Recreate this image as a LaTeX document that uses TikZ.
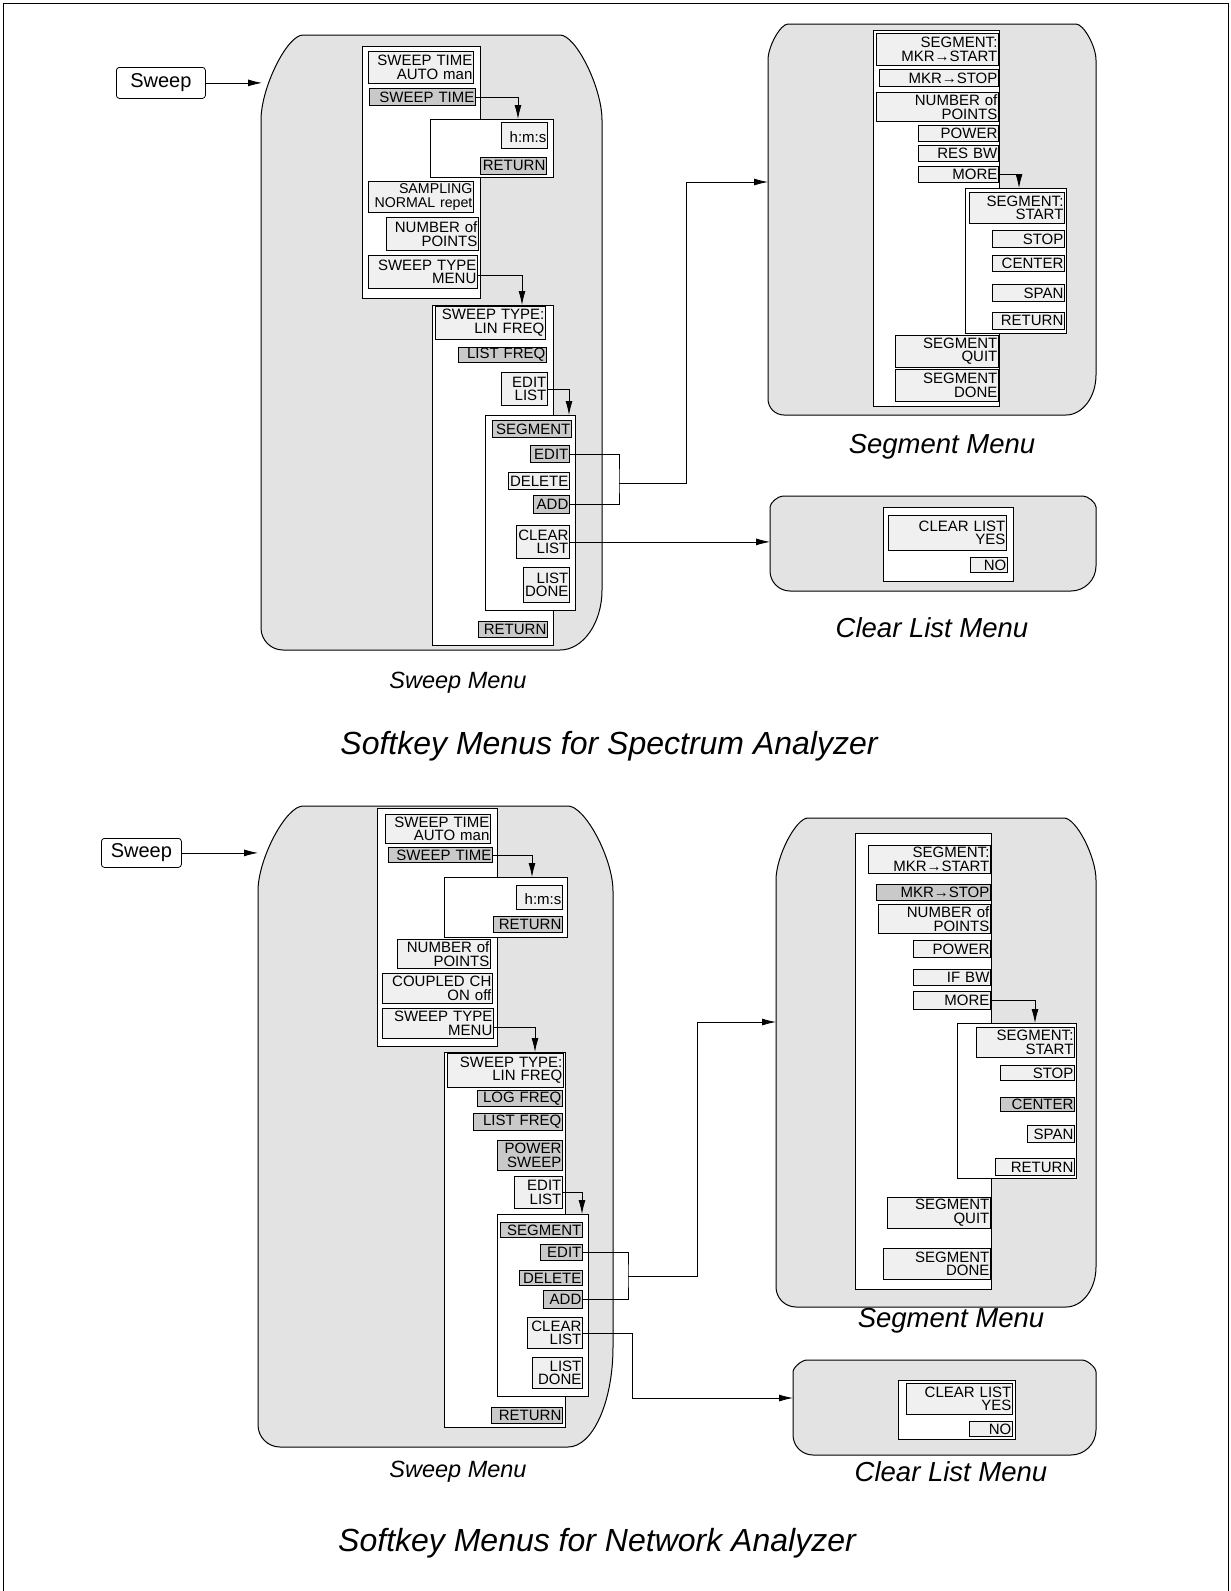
\documentclass[tikz,border=0pt]{standalone}
\usepackage{fontspec}
\setmainfont{Liberation Sans}
\usetikzlibrary{arrows.meta}
\tikzset{
 panelstyle/.style={fill=gray!22, draw=black, line width=1pt},
 btn/.style={draw=black, fill=gray!12, line width=0.8pt, inner xsep=1pt, inner ysep=0pt, align=right, font=\fontsize{15}{13.5}\selectfont},
 dk/.style={fill=gray!42},
 sm/.style={font=\fontsize{14.2}{13.5}\selectfont},
 wbox/.style={draw=black, fill=white, line width=0.8pt, inner sep=0pt},
 conn/.style={draw=black, line width=0.8pt, -{Latex[length=14pt,width=7pt]}},
 plainline/.style={draw=black, line width=0.8pt},
 swk/.style={draw=black, rounded corners=3pt, fill=white, line width=0.8pt, inner sep=0pt, font=\fontsize{20}{24}\selectfont},
 lbl/.style={font=\fontsize{27.5}{30}\selectfont\itshape},
 lbls/.style={font=\fontsize{23.5}{28}\selectfont\itshape},
 ttl/.style={font=\fontsize{32}{36}\selectfont\itshape}
}
\newcommand\skpanel[9]{%
 \filldraw[panelstyle] (#1,{#2+#6}) .. controls (#1,{#2+#6*0.62}) and ({#1+#5*0.62},#2) .. ({#1+#5},#2)
 -- ({#3-#5},#2) .. controls ({#3-#5*0.62},#2) and (#3,{#2+#6*0.62}) .. (#3,{#2+#6})
 -- (#3,{#4-#8}) .. controls (#3,{#4-#8*0.45}) and ({#3-#7*0.45},#4) .. ({#3-#7},#4)
 -- ({#1+#9},#4) .. controls ({#1+#9*0.45},#4) and (#1,{#4-#9*0.45}) .. (#1,{#4-#9}) -- cycle;}
\newcommand\skbtn[7][]{%
 \pgfmathsetmacro\skW{#5-#3}\pgfmathsetmacro\skH{#6-#4}\pgfmathsetmacro\skT{#5-#3-2}%
 \node[btn,#1,minimum width=\skW pt,minimum height=\skH pt,text width=\skT pt,anchor=north west] (#2) at (#3,#4) {#7};}
\newcommand\skbox[5]{%
 \pgfmathsetmacro\skW{#4-#2}\pgfmathsetmacro\skH{#5-#3}%
 \node[wbox,minimum width=\skW pt,minimum height=\skH pt,anchor=north west] (#1) at (#2,#3) {};}
\begin{document}
\begin{tikzpicture}[x=1pt,y=-1pt]
\fill[white] (0,0) rectangle (1231,1591);
\useasboundingbox (0,0) rectangle (1231,1591);
\draw[line width=1pt] (3,1591) -- (3,3) -- (1228,3) -- (1228,1591);

% ================= TOP: Spectrum analyzer =================
\node[swk, minimum width=89pt, minimum height=31pt, anchor=north west] (tsweep) at (116,67) {Sweep};
\skpanel{261}{35}{602}{650}{42}{85}{42}{60}{22}
\coordinate (tswin) at (262,80);
\draw[conn] (tsweep.east) -- (tsweep.east -| tswin);

\skbox{tswl}{362}{46}{480}{298}
\skbtn{tst1}{368}{51}{473}{83}{SWEEP TIME\\AUTO man}
\skbtn[dk]{tst2}{369}{88}{475}{105}{SWEEP TIME}
\skbox{thms}{430}{119}{553}{177}
\skbtn{thms1}{501}{122}{547}{148}{\mbox{}\\h:m:s}
\skbtn[dk]{thms2}{480}{157}{546}{174}{RETURN}
\skbtn[sm]{tsamp}{368}{181}{473}{212}{SAMPLING\\\mbox{NORMAL repet}}
\skbtn{tnop}{386}{217}{478}{250}{NUMBER of\\POINTS}
\skbtn{tstm}{368}{255}{477}{288}{SWEEP TYPE\\MENU}
\skbox{ttyp}{432}{305}{553}{645}
\skbtn{tlin}{435}{306}{545}{339}{SWEEP TYPE:\\LIN FREQ}
\skbtn[dk]{tlist}{458}{347}{546}{362}{LIST FREQ}
\skbtn{tedl}{501}{372}{547}{405}{EDIT\\LIST}
\skbox{tseg}{485}{415}{575}{610}
\skbtn[dk]{tsg}{492}{420}{571}{437}{SEGMENT}
\skbtn[dk]{tedit}{530}{445}{569}{462}{EDIT}
\skbtn{tdel}{508}{472}{569}{489}{DELETE}
\skbtn[dk]{tadd}{533}{495}{569}{513}{ADD}
\skbtn{tclr}{516}{525}{569}{558}{CLEAR\\LIST}
\skbtn{tldn}{523}{567}{569}{602}{LIST\\DONE}
\skbtn[dk]{tret}{478}{621}{547}{637}{RETURN}

\coordinate (ta1) at (518,119);
\draw[conn] (tst2.east) -| (ta1);
\coordinate (ta2) at (522,305);
\draw[conn] ([yshift=-3.5pt]tstm.east) -| (ta2);
\coordinate (ta3) at (569,415);
\draw[conn] (tedl.east) -| (ta3);

% segment menu (top)
\skpanel{768}{24}{1096}{415}{20}{36}{30}{40}{16}
\skbox{sgl}{873}{30}{999}{406}
\skbtn{s1}{876}{33}{998}{65}{SEGMENT:\\MKR→START}
\skbtn{s2}{879}{69}{998}{86}{MKR→STOP}
\skbtn{s3}{876}{92}{998}{121}{NUMBER of\\POINTS}
\skbtn{s4}{918}{125}{998}{141}{POWER}
\skbtn{s5}{918}{145}{998}{161}{RES BW}
\skbtn{s6}{918}{166}{998}{182}{MORE}
\skbox{sgs}{965}{188}{1066}{333}
\skbtn{s7}{969}{192}{1064}{223}{SEGMENT:\\START}
\skbtn{s8}{992}{230}{1064}{247}{STOP}
\skbtn{s9}{992}{255}{1064}{271}{CENTER}
\skbtn{s10}{992}{284}{1064}{301}{SPAN}
\skbtn{s11}{992}{312}{1064}{329}{RETURN}
\skbtn{s12}{895}{335}{998}{367}{SEGMENT\\QUIT}
\skbtn{s13}{895}{369}{998}{401}{SEGMENT\\DONE}
\coordinate (ta4) at (1019,188);
\draw[conn] (s6.east) -| (ta4);

% clear list (top)
\skpanel{770}{496}{1096}{591}{13}{11}{25}{25}{20}
\skbox{clb}{883}{507}{1013}{581}
\skbtn{c1}{888}{515}{1006}{550}{CLEAR LIST\\YES}
\skbtn{c2}{970}{557}{1007}{572}{NO}

% connectors top
\coordinate (tbr) at (619,483);
\draw[plainline] (tedit.east) -| (tbr) |- (tadd.east);
\coordinate (tup) at (686,182);
\coordinate (tsegin) at (768,182);
\draw[conn] (tbr) -| (tup) -- (tsegin);
\coordinate (tclin) at (770,543);
\draw[conn] (tclr.east) -- (tclr.east -| tclin);

\node[lbls] (tlsw) at (458,683) {Sweep Menu};
\node[lbl] (tlsg) at (942,447) {Segment Menu};
\node[lbl] (tlcl) at (932,628) {Clear List Menu};
\node[ttl] (tt1) at (609,746) {Softkey Menus for Spectrum Analyzer};

% ================= BOTTOM: Network analyzer =================
\node[swk, minimum width=80pt, minimum height=29pt, anchor=north west] (bsweep) at (101,838) {Sweep};
\skpanel{258}{806}{613}{1447}{45}{85}{45}{100}{22}
\coordinate (bswin) at (258,850);
\draw[conn] (bsweep.east) -- (bsweep.east -| bswin);

\skbox{bswl}{377}{808}{497}{1046}
\skbtn{bst1}{385}{814}{490}{843}{SWEEP TIME\\AUTO man}
\skbtn[dk]{bst2}{388}{847}{492}{862}{SWEEP TIME}
\skbox{bhms}{444}{877}{567}{937}
\skbtn{bhms1}{516}{885}{562}{909}{\mbox{}\\h:m:s}
\skbtn[dk]{bhms2}{493}{916}{562}{932}{RETURN}
\skbtn{bnop}{397}{939}{490}{968}{NUMBER of\\POINTS}
\skbtn{bcpl}{382}{973}{492}{1003}{COUPLED CH\\ON off}
\skbtn{bstm}{382}{1008}{493}{1038}{SWEEP TYPE\\MENU}
\skbox{btyp}{444}{1052}{565}{1427}
\skbtn{blin}{447}{1053}{563}{1087}{SWEEP TYPE:\\LIN FREQ}
\skbtn[dk]{blog}{477}{1090}{562}{1106}{LOG FREQ}
\skbtn[dk]{blist}{473}{1113}{562}{1130}{LIST FREQ}
\skbtn[dk]{bpow}{497}{1140}{562}{1170}{POWER\\SWEEP}
\skbtn{bedl}{514}{1176}{562}{1208}{EDIT\\LIST}
\skbox{bseg}{497}{1214}{588}{1396}
\skbtn[dk]{bsg}{500}{1222}{582}{1237}{SEGMENT}
\skbtn[dk]{bedit}{540}{1244}{582}{1260}{EDIT}
\skbtn[dk]{bdel}{519}{1270}{582}{1285}{DELETE}
\skbtn[dk]{badd}{543}{1290}{582}{1308}{ADD}
\skbtn{bclr}{527}{1317}{582}{1348}{CLEAR\\LIST}
\skbtn{bldn}{532}{1357}{582}{1388}{LIST\\DONE}
\skbtn[dk]{bret}{491}{1407}{562}{1423}{RETURN}

\coordinate (ba1) at (532,877);
\draw[conn] (bst2.east) -| (ba1);
\coordinate (ba2) at (535,1052);
\draw[conn] ([yshift=-4pt]bstm.east) -| (ba2);
\coordinate (ba3) at (582,1214);
\draw[conn] (bedl.east) -| (ba3);

% segment menu (bottom)
\skpanel{776}{818}{1096}{1307}{32}{62}{30}{40}{20}
\skbox{bsgl}{855}{833}{991}{1289}
\skbtn{u1}{868}{845}{990}{873}{SEGMENT:\\MKR→START}
\skbtn[dk]{u2}{876}{884}{990}{900}{MKR→STOP}
\skbtn{u3}{878}{904}{990}{933}{NUMBER of\\POINTS}
\skbtn{u4}{913}{940}{990}{957}{POWER}
\skbtn{u5}{913}{969}{990}{985}{IF BW}
\skbtn{u6}{913}{991}{990}{1009}{MORE}
\skbox{bsgs}{957}{1023}{1076}{1178}
\skbtn{u7}{976}{1027}{1074}{1057}{SEGMENT:\\START}
\skbtn{u8}{1000}{1065}{1074}{1080}{STOP}
\skbtn[dk]{u9}{1000}{1097}{1074}{1111}{CENTER}
\skbtn{u10}{1027}{1125}{1074}{1142}{SPAN}
\skbtn{u11}{995}{1158}{1074}{1175}{RETURN}
\skbtn{u12}{887}{1197}{990}{1228}{SEGMENT\\QUIT}
\skbtn{u13}{883}{1248}{990}{1279}{SEGMENT\\DONE}
\coordinate (ua) at (1035,1023);
\draw[conn] (u6.east) -| (ua);

% clear list (bottom)
\skpanel{793}{1360}{1096}{1455}{14}{12}{25}{25}{20}
\skbox{bclb}{898}{1380}{1015}{1439}
\skbtn{v1}{906}{1383}{1012}{1414}{CLEAR LIST\\YES}
\skbtn{v2}{969}{1421}{1012}{1436}{NO}

% connectors bottom
\coordinate (bbr) at (628,1276);
\draw[plainline] (bedit.east) -| (bbr) |- (badd.east);
\coordinate (bup) at (697,1022);
\coordinate (bsegin) at (776,1022);
\draw[conn] (bbr) -| (bup) -- (bsegin);
\coordinate (bcd) at (632,1398);
\coordinate (bclin) at (793,1398);
\draw[conn] (bclr.east) -| (bcd) -- (bclin);

\node[lbl] (blsg) at (951,1321) {Segment Menu};
\node[lbls] (blsw) at (458,1472) {Sweep Menu};
\node[lbl] (blcl) at (951,1472) {Clear List Menu};
\node[ttl] (tt2) at (597,1543) {Softkey Menus for Network Analyzer};
\end{tikzpicture}
\end{document}
